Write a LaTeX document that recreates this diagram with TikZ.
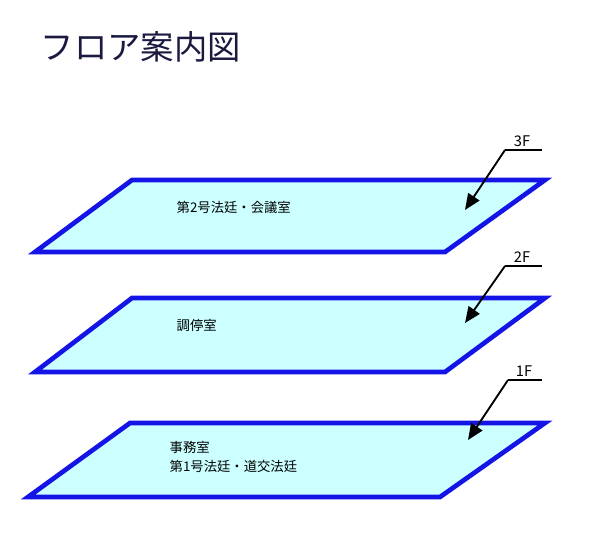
\documentclass[tikz,border=0pt]{standalone}
\usepackage{fontspec}
\setmainfont{Noto Sans CJK JP}
\usetikzlibrary{arrows.meta}
\definecolor{floorfill}{HTML}{CCFFFF}
\definecolor{floorline}{HTML}{1414E6}
\definecolor{titleink}{HTML}{1A1A40}
\tikzset{
  floor/.style={draw=floorline, fill=floorfill, line width=3.5pt, line join=miter},
  leader/.style={line width=1.4pt, -{Triangle[length=12pt,width=10pt]}},
  tag/.style={font=\fontsize{11}{12}\selectfont, anchor=south},
  room/.style={font=\fontsize{10}{14}\selectfont, anchor=west, align=left}
}
\begin{document}
\begin{tikzpicture}[x=0.75pt,y=-0.75pt]
\useasboundingbox (0,0) rectangle (600,544);
\node[anchor=west, text=titleink, font=\fontsize{25}{28}\selectfont\addfontfeature{FakeBold=0}] (title) at (36,47) {フロア案内図};

% floors
\draw[floor] (35,252) -- (445,252) -- (545,180) -- (132,180) -- cycle;
\draw[floor] (35,372) -- (445,372) -- (545,298) -- (132,298) -- cycle;
\draw[floor] (28,497) -- (440,497) -- (545,423) -- (130,423) -- cycle;

% room names
\node[room] (r3) at (172,207) {第2号法廷・会議室};
\node[room] (r2) at (172,325) {調停室};
\node[room] (r1) at (165,457) {事務室\\第1号法廷・道交法廷};

% level tags
\coordinate (k3) at (505,150); \coordinate (e3) at (542,150); \coordinate (t3) at (465,210);
\coordinate (k2) at (505,266); \coordinate (e2) at (542,266); \coordinate (t2) at (465,323);
\coordinate (k1) at (508,380); \coordinate (e1) at (542,380); \coordinate (t1) at (468,440);
\node[tag] (f3) at (522,151) {3F};
\node[tag] (f2) at (522,267) {2F};
\node[tag] (f1) at (524,381) {1F};
\draw[line width=1.4pt] (e3) -- (k3); \draw[leader] (k3) -- (t3);
\draw[line width=1.4pt] (e2) -- (k2); \draw[leader] (k2) -- (t2);
\draw[line width=1.4pt] (e1) -- (k1); \draw[leader] (k1) -- (t1);
\end{tikzpicture}
\end{document}
